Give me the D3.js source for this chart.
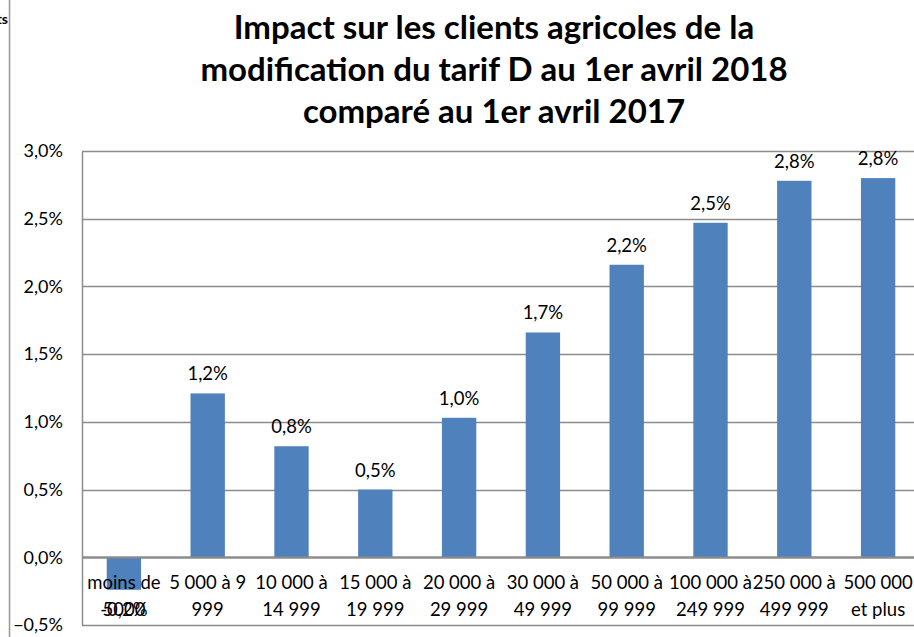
<!DOCTYPE html>
<html>
<head>
<meta charset="utf-8">
<script src="https://cdn.jsdelivr.net/npm/d3@7"></script>
<style>
  body { margin: 0; background: #fff; }
  svg { display: block; }
</style>
</head>
<body>
<svg id="chart"></svg>
<script>
const categories = [
  ["moins de", "5000"], ["5 000 à 9", "999"], ["10 000 à", "14 999"], ["15 000 à", "19 999"],
  ["20 000 à", "29 999"], ["30 000 à", "49 999"], ["50 000 à", "99 999"], ["100 000 à", "249 999"],
  ["250 000 à", "499 999"], ["500 000", "et plus"]
];
const values = [-0.24, 1.21, 0.82, 0.50, 1.03, 1.66, 2.16, 2.47, 2.78, 2.80];
const valueLabels = ["-0,2%", "1,2%", "0,8%", "0,5%", "1,0%", "1,7%", "2,2%", "2,5%", "2,8%", "2,8%"];
const yTicks = [-0.5, 0, 0.5, 1, 1.5, 2, 2.5, 3];
const titleLines = [
  "Impact sur les clients agricoles de la",
  "modification du tarif D au 1er avril 2018",
  "comparé au 1er avril 2017"
];

const W = 914, H = 637;
const margin = { top: 151, right: -6, bottom: 12, left: 82 };
const width = W - margin.left - margin.right,
  height = H - margin.top - margin.bottom;
const font = "Lato, 'Open Sans', sans-serif";

const svg = d3.select("#chart").attr("width", W).attr("height", H);

// outer frame line on the left and the clipped leftover text
svg.append("line")
  .attr("x1", 9.5).attr("x2", 9.5).attr("y1", 0).attr("y2", H)
  .attr("stroke", "#999").attr("stroke-width", 1.5);
svg.append("text")
  .attr("x", 8).attr("y", 24).attr("text-anchor", "end")
  .style("font-family", font).style("font-weight", "bold").style("font-size", "14px")
  .text("ts");

// title
svg.append("g").selectAll("text")
  .data(titleLines)
  .join("text")
  .attr("x", 494)
  .attr("y", (d, i) => 39 + i * 42)
  .attr("text-anchor", "middle")
  .style("font-family", font)
  .style("font-weight", "bold")
  .style("font-size", "33px")
  .text(d => d);

const g = svg.append("g").attr("transform", `translate(${margin.left},${margin.top})`);

const x = d3.scaleBand().domain(d3.range(categories.length)).range([0, width]).paddingInner(0.59).paddingOuter(0.295);
const y = d3.scaleLinear().domain([-0.5, 3]).range([height, 0]);

// gridlines
g.append("g").selectAll("line")
  .data(yTicks)
  .join("line")
  .attr("x1", 0).attr("x2", width)
  .attr("y1", d => Math.round(y(d)) + 0.5).attr("y2", d => Math.round(y(d)) + 0.5)
  .attr("stroke", "#8c8c8c").attr("stroke-width", d => d === 0 ? 2 : 1.5);

// y axis
const yAxis = g.append("g")
  .call(d3.axisLeft(y).tickValues(yTicks).tickSize(0).tickPadding(19)
    .tickFormat(d => d3.format(".1f")(d).replace(".", ",") + "%"));
yAxis.select(".domain").attr("stroke", "#8c8c8c").attr("stroke-width", 1.5);
yAxis.selectAll("text").style("font-family", font).style("font-size", "18px").attr("fill", "#000");

// bars
g.append("g").selectAll("rect")
  .data(values)
  .join("rect")
  .attr("x", (d, i) => x(i))
  .attr("width", x.bandwidth())
  .attr("y", d => y(Math.max(0, d)))
  .attr("height", d => Math.abs(y(d) - y(0)))
  .attr("fill", "#4f81bd");

// zero line on top of bars
g.append("line")
  .attr("x1", 0).attr("x2", width)
  .attr("y1", Math.round(y(0)) + 0.5).attr("y2", Math.round(y(0)) + 0.5)
  .attr("stroke", "#8c8c8c").attr("stroke-width", 2);

// value labels
g.append("g").selectAll("text")
  .data(values)
  .join("text")
  .attr("x", (d, i) => x(i) + x.bandwidth() / 2)
  .attr("y", d => d < 0 ? y(d) + 26 : y(d) - 13)
  .attr("text-anchor", "middle")
  .style("font-family", font).style("font-size", "18.5px")
  .text((d, i) => valueLabels[i]);

// category labels
const cat = g.append("g").selectAll("text")
  .data(categories)
  .join("text")
  .attr("x", (d, i) => x(i) + x.bandwidth() / 2)
  .attr("y", y(0) + 32)
  .attr("text-anchor", "middle")
  .style("font-family", font).style("font-size", "18.5px");
cat.selectAll("tspan")
  .data(d => d)
  .join("tspan")
  .attr("x", function () { return this.parentNode.getAttribute("x"); })
  .attr("dy", (d, i) => i === 0 ? 0 : 27)
  .text(d => d);
</script>
</body>
</html>
